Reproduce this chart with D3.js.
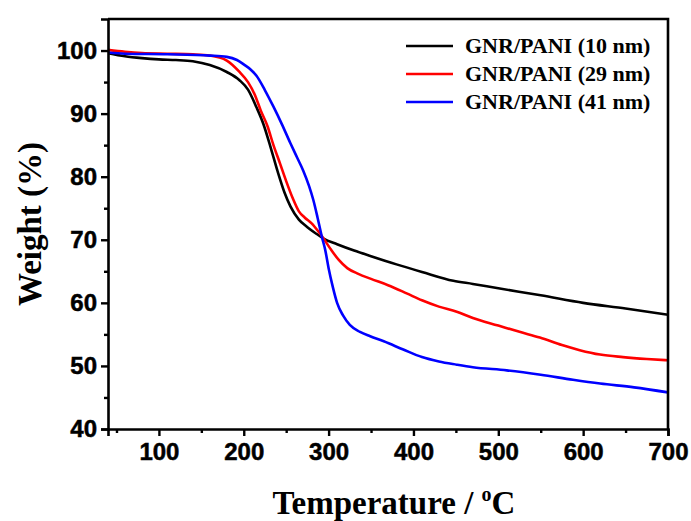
<!DOCTYPE html>
<html>
<head>
<meta charset="utf-8">
<script src="https://cdn.jsdelivr.net/npm/d3@7"></script>
<style>
html,body{margin:0;padding:0;background:#fff;}
svg{display:block;}
</style>
</head>
<body>
<svg id="chart" width="691" height="521"></svg>
<script>
const seriesNames = ["GNR/PANI (10 nm)", "GNR/PANI (29 nm)", "GNR/PANI (41 nm)"];
const seriesColors = ["#000000", "#ff0000", "#0000ff"];

const temp10 = [40,60,80,100,120,140,160,180,195,205,215,223,232,240,248,255,265,275,285,294,310,330,350,380,410,447,470,500,550,600,650,700];
const weight10 = [99.6,99.1,98.8,98.6,98.5,98.3,97.7,96.6,95.3,93.8,91.0,88.4,84.5,80.8,77.5,75.3,73.2,72.0,71.0,70.2,69.3,68.3,67.4,66.1,64.9,63.5,63.0,62.3,61.2,60.0,59.1,58.1];

const temp29 = [40,60,80,110,140,160,180,195,205,213,220,228,235,243,250,258,265,272,280,288,294,303,312,322,335,350,370,392,410,430,451,470,500,525,549,575,596,620,647,675,700];
const weight29 = [100.1,99.8,99.6,99.5,99.4,99.2,98.4,96.6,95.0,93.0,90.5,88.0,85.0,82.0,79.3,76.5,74.5,73.5,72.6,71.3,70.2,68.4,66.8,65.5,64.6,63.8,62.8,61.5,60.4,59.4,58.6,57.6,56.4,55.4,54.5,53.3,52.5,51.8,51.4,51.1,50.9];

const temp41 = [40,60,110,160,180,192,200,208,215,225,235,245,255,263,270,277,282,287,292,296,300,305,310,317,325,337,349,365,388,410,430,451,470,510,550,588,620,660,700];
const weight41 = [99.7,99.5,99.4,99.2,99.0,98.5,97.8,97.0,96.0,93.7,91.1,88.3,85.3,83.0,81.0,78.5,76.3,73.5,70.5,68.4,65.5,62.5,60.0,58.0,56.5,55.4,54.7,53.9,52.6,51.4,50.7,50.2,49.8,49.3,48.6,47.8,47.2,46.6,45.8];

const xTicks = [100,200,300,400,500,600,700];
const yTicks = [40,50,60,70,80,90,100];

const series = [
  {name: seriesNames[0], color: seriesColors[0], t: temp10, w: weight10},
  {name: seriesNames[1], color: seriesColors[1], t: temp29, w: weight29},
  {name: seriesNames[2], color: seriesColors[2], t: temp41, w: weight41}
];

const L = 108, R = 668, T = 19, B = 429;
const svg = d3.select("#chart");
const x = d3.scaleLinear().domain([40, 700]).range([L, R]);
const y = d3.scaleLinear().domain([40, 105]).range([B, T]);

const tickFont = "Arial, 'Liberation Sans', sans-serif";
const serif = "'Times New Roman', 'Liberation Serif', serif";

// curves
const line = d3.line().x(d => x(d[0])).y(d => y(d[1])).curve(d3.curveMonotoneX);
svg.append("clipPath").attr("id","clip").append("rect")
  .attr("x", L).attr("y", T).attr("width", R-L).attr("height", B-T);
series.forEach(s => {
  svg.append("path")
    .datum(s.t.map((tv,i) => [tv, s.w[i]]))
    .attr("d", line)
    .attr("fill","none")
    .attr("stroke", s.color)
    .attr("stroke-width", 2.6)
    .attr("stroke-linejoin","round")
    .attr("clip-path","url(#clip)");
});

// axes
const xMinor = d3.range(50, 701, 50).filter(v => v % 100 !== 0);
const yMinor = d3.range(45, 105, 10);

svg.append("g").attr("transform", `translate(0,${B})`)
  .call(d3.axisBottom(x).tickValues(xTicks).tickSize(7).tickPadding(7).tickFormat(d3.format("d")));
svg.append("g").attr("transform", `translate(0,${B})`)
  .call(d3.axisBottom(x).tickValues(xMinor).tickSize(4).tickFormat(""))
  .call(g => g.select(".domain").remove());
svg.append("g").attr("transform", `translate(${L},0)`)
  .call(d3.axisLeft(y).tickValues(yTicks).tickSize(7).tickPadding(4).tickFormat(d3.format("d")));
svg.append("g").attr("transform", `translate(${L},0)`)
  .call(d3.axisLeft(y).tickValues(yMinor).tickSize(4).tickFormat(""))
  .call(g => g.select(".domain").remove());

svg.selectAll(".tick line").attr("stroke","#000").attr("stroke-width",2.4);
svg.selectAll(".domain").attr("stroke","#000").attr("stroke-width",2.6);
svg.selectAll(".tick text").attr("font-family", tickFont).attr("font-weight","bold")
  .attr("font-size", 24).attr("fill","#000").attr("stroke","#000").attr("stroke-width",0.5);

// frame top and right
svg.append("path")
  .attr("d", `M${L},${T}H${R}V${B}`)
  .attr("fill","none").attr("stroke","#000").attr("stroke-width",2.6);

// axis titles
const xt = svg.append("text")
  .attr("x", (L+R)/2 + 6).attr("y", 514)
  .attr("text-anchor","middle")
  .attr("font-family", serif).attr("font-weight","bold").attr("font-size", 33).attr("fill","#000");
xt.append("tspan").text("Temperature / ");
xt.append("tspan").attr("dy", -13).attr("font-size", 20).text("o");
xt.append("tspan").attr("dy", 13).text("C");

svg.append("text")
  .attr("transform", `translate(41,${(T+B)/2}) rotate(-90)`)
  .attr("text-anchor","middle")
  .attr("font-family", serif).attr("font-weight","bold").attr("font-size", 33).attr("fill","#000")
  .text("Weight (%)");

// legend
const lg = svg.append("g");
series.forEach((s, i) => {
  const yy = 46 + i * 28;
  lg.append("line").attr("x1", 406).attr("x2", 453).attr("y1", yy).attr("y2", yy)
    .attr("stroke", s.color).attr("stroke-width", 2.6);
  lg.append("text").attr("x", 465).attr("y", yy + 7)
    .attr("font-family", serif).attr("font-weight","bold").attr("font-size", 22).attr("fill","#000")
    .text(s.name);
});
</script>
</body>
</html>
